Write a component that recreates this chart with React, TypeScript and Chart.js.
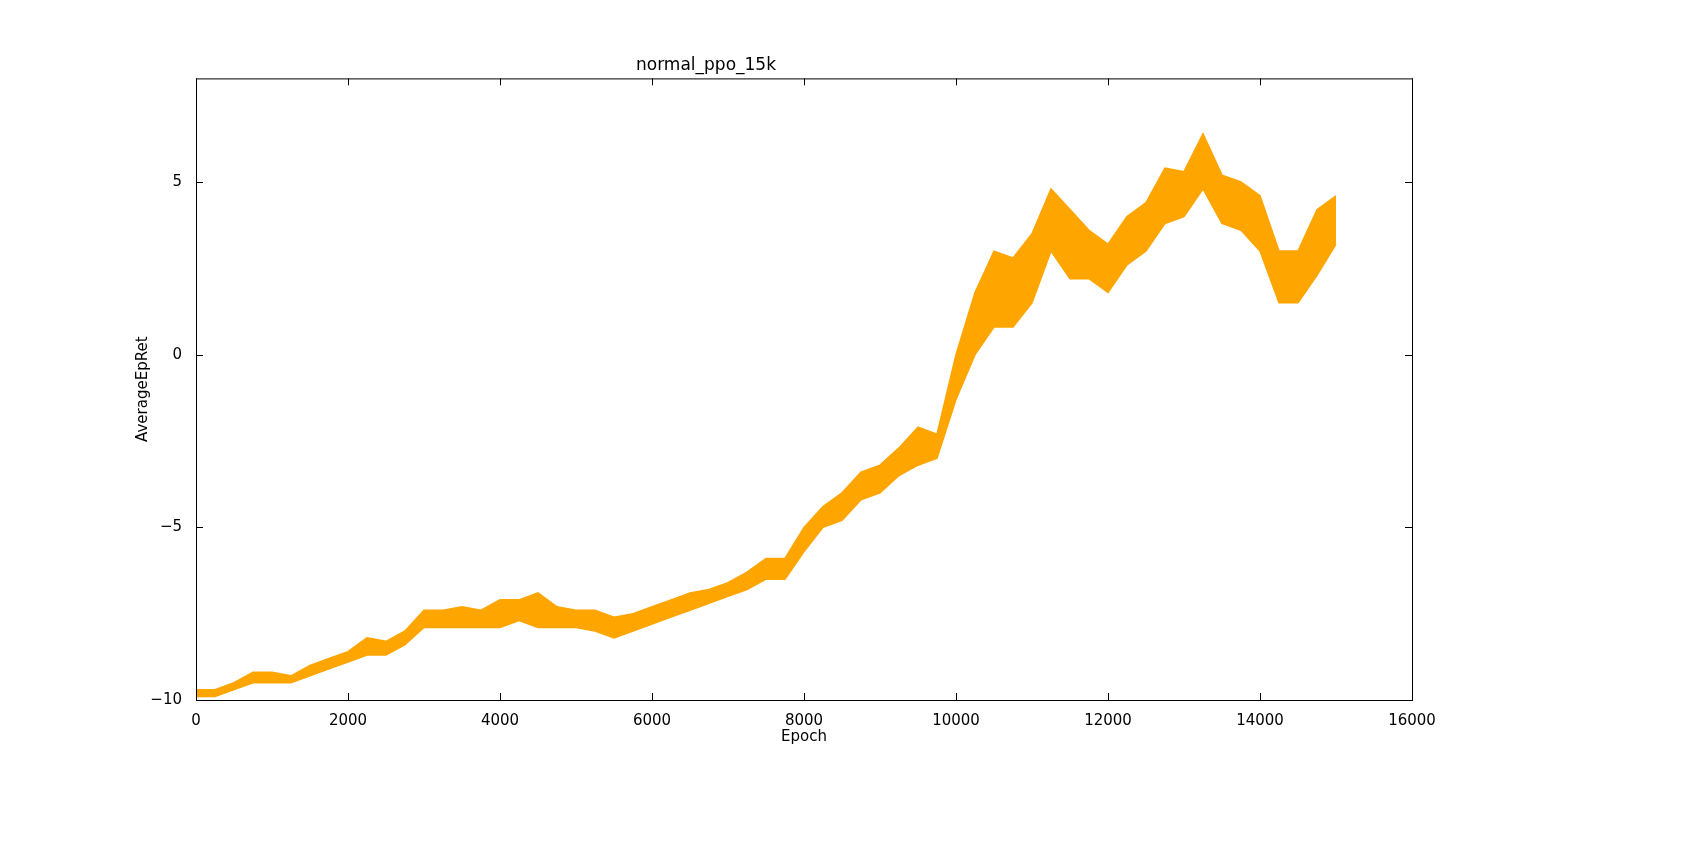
import { useEffect, useRef } from "react";
import { Chart, registerables } from "chart.js";

Chart.register(...registerables);

// envelope of the noisy curve, every 250 epochs
const epochs = [
  0, 250, 500, 750, 1000, 1250, 1500, 1750, 2000, 2250, 2500, 2750, 3000, 3250, 3500, 3750,
  4000, 4250, 4500, 4750, 5000, 5250, 5500, 5750, 6000, 6250, 6500, 6750, 7000, 7250, 7500,
  7750, 8000, 8250, 8500, 8750, 9000, 9250, 9500, 9750, 10000, 10250, 10500, 10750, 11000,
  11250, 11500, 11750, 12000, 12250, 12500, 12750, 13000, 13250, 13500, 13750, 14000, 14250,
  14500, 14750, 15000,
];
const retLow = [
  -9.9, -9.9, -9.7, -9.5, -9.5, -9.5, -9.3, -9.1, -8.9, -8.7, -8.7, -8.4, -7.9, -7.9, -7.9,
  -7.9, -7.9, -7.7, -7.9, -7.9, -7.9, -8.0, -8.2, -8.0, -7.8, -7.6, -7.4, -7.2, -7.0, -6.8,
  -6.5, -6.5, -5.7, -5.0, -4.8, -4.2, -4.0, -3.5, -3.2, -3.0, -1.3, 0.0, 0.8, 0.8, 1.5, 3.0,
  2.2, 2.2, 1.8, 2.6, 3.0, 3.8, 4.0, 4.8, 3.8, 3.6, 3.0, 1.5, 1.5, 2.3, 3.2,
];
const retHigh = [
  -9.7, -9.7, -9.5, -9.2, -9.2, -9.3, -9.0, -8.8, -8.6, -8.2, -8.3, -8.0, -7.4, -7.4, -7.3,
  -7.4, -7.1, -7.1, -6.9, -7.3, -7.4, -7.4, -7.6, -7.5, -7.3, -7.1, -6.9, -6.8, -6.6, -6.3,
  -5.9, -5.9, -5.0, -4.4, -4.0, -3.4, -3.2, -2.7, -2.1, -2.3, 0.0, 1.8, 3.0, 2.8, 3.5, 4.8,
  4.2, 3.6, 3.2, 4.0, 4.4, 5.4, 5.3, 6.4, 5.2, 5.0, 4.6, 3.0, 3.0, 4.2, 4.6,
];
const xTicks = [0, 2000, 4000, 6000, 8000, 10000, 12000, 14000, 16000];
const yTicks = [-10, -5, 0, 5];

const FONT = "'DejaVu Sans', sans-serif";
const ORANGE = "#ffa500";

const frame = {
  id: "frame",
  afterDraw(chart: Chart) {
    const { ctx, chartArea: a } = chart;
    const x = chart.scales.x;
    const y = chart.scales.y;
    ctx.save();
    ctx.strokeStyle = "#000";
    ctx.lineWidth = 1;
    ctx.strokeRect(a.left + 0.5, a.top + 0.5, a.right - a.left, a.bottom - a.top);
    ctx.beginPath();
    xTicks.forEach((t) => {
      const p = Math.round(x.getPixelForValue(t)) + 0.5;
      ctx.moveTo(p, a.bottom);
      ctx.lineTo(p, a.bottom - 7);
      ctx.moveTo(p, a.top);
      ctx.lineTo(p, a.top + 7);
    });
    yTicks.forEach((t) => {
      const p = Math.round(y.getPixelForValue(t)) + 0.5;
      ctx.moveTo(a.left, p);
      ctx.lineTo(a.left + 7, p);
      ctx.moveTo(a.right, p);
      ctx.lineTo(a.right - 7, p);
    });
    ctx.stroke();

    // axis titles
    ctx.fillStyle = "#000";
    ctx.font = `15px ${FONT}`;
    ctx.textAlign = "center";
    ctx.textBaseline = "middle";
    ctx.fillText("Epoch", (a.left + a.right) / 2, a.bottom + 37);
    ctx.translate(a.left - 53, (a.top + a.bottom) / 2);
    ctx.rotate(-Math.PI / 2);
    ctx.fillText("AverageEpRet", 0, 0);
    ctx.restore();
  },
};

function App() {
  const canvasRef = useRef<HTMLCanvasElement | null>(null);

  useEffect(() => {
    document.body.style.margin = "0";
    if (!canvasRef.current) return;
    const chart = new Chart(canvasRef.current, {
      type: "line",
      data: {
        datasets: [
          {
            data: epochs.map((e, i) => ({ x: e, y: retLow[i] })),
            borderColor: ORANGE,
            borderWidth: 1.5,
            pointRadius: 0,
            fill: false,
          },
          {
            data: epochs.map((e, i) => ({ x: e, y: retHigh[i] })),
            borderColor: ORANGE,
            backgroundColor: ORANGE,
            borderWidth: 1.5,
            pointRadius: 0,
            fill: "-1",
          },
        ],
      },
      plugins: [frame],
      options: {
        animation: false,
        responsive: false,
        layout: { padding: { left: 0, right: 295, top: 0, bottom: 0 } },
        plugins: {
          legend: { display: false },
          tooltip: { enabled: false },
          title: {
            display: true,
            text: "normal_ppo_15k",
            color: "#000",
            font: { family: FONT, size: 17, weight: "normal" },
            padding: { top: 55, bottom: 3 },
          },
        },
        scales: {
          x: {
            type: "linear",
            min: 0,
            max: 16000,
            afterBuildTicks: (s: any) => {
              s.ticks = xTicks.map((v) => ({ value: v }));
            },
            afterFit: (s: any) => {
              s.height = 148;
            },
            grid: { display: false },
            border: { display: false },
            ticks: {
              color: "#000",
              font: { family: FONT, size: 15 },
              padding: 4,
              maxRotation: 0,
              callback: (v: any) => String(v),
            },
          },
          y: {
            type: "linear",
            min: -10,
            max: 8,
            afterBuildTicks: (s: any) => {
              s.ticks = yTicks.map((v) => ({ value: v }));
            },
            afterFit: (s: any) => {
              s.width = 196;
            },
            grid: { display: false },
            border: { display: false },
            ticks: {
              color: "#000",
              font: { family: FONT, size: 15 },
              padding: 6,
              callback: (v: any) => String(v).replace("-", "\u2212"),
            },
          },
        },
      },
    });
    return () => chart.destroy();
  }, []);

  return <canvas ref={canvasRef} width={1707} height={848} style={{ display: "block" }} />;
}

export default App;
